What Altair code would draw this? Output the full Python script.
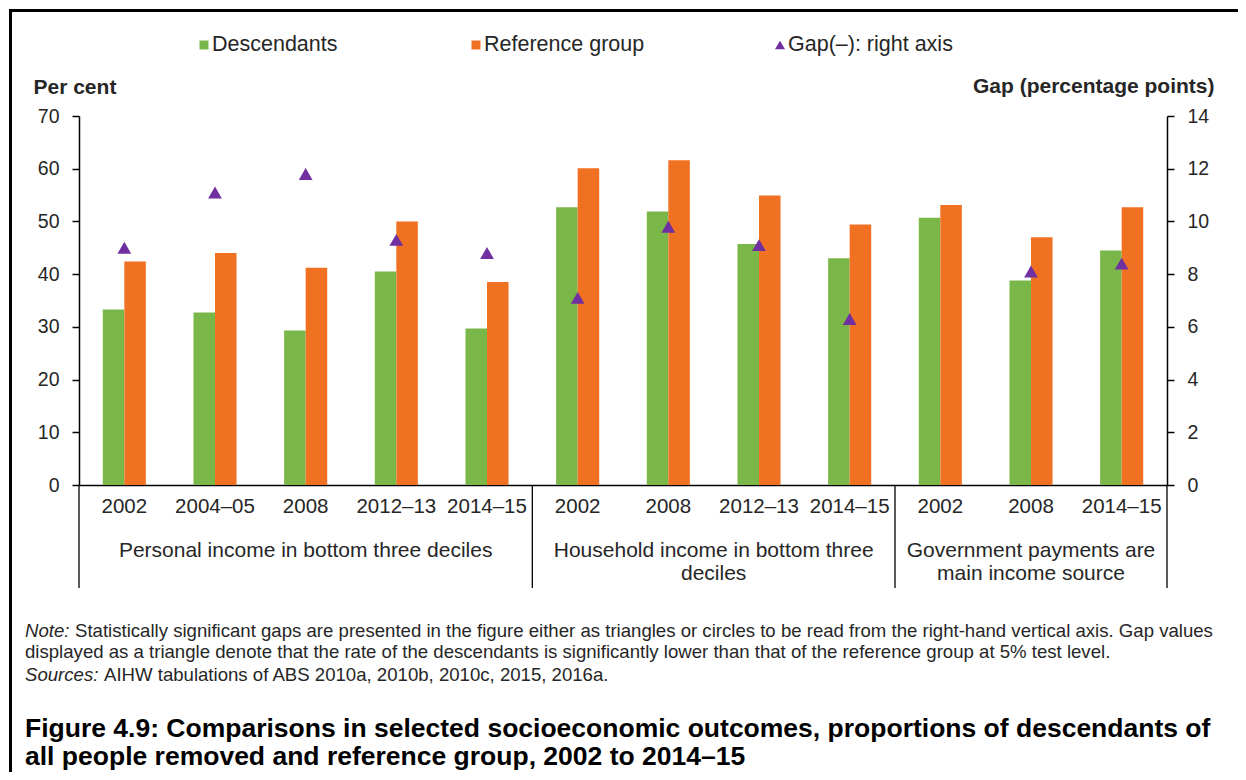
import json
import altair as alt
import pandas as pd

# ---------------- data ----------------
years = ["2002", "2004–05", "2008", "2012–13", "2014–15",
         "2002", "2008", "2012–13", "2014–15",
         "2002", "2008", "2014–15"]
descendants = [33.3, 32.7, 29.3, 40.5, 29.7, 52.7, 51.9, 45.7, 43.0, 50.7, 38.8, 44.5]
reference = [42.4, 44.0, 41.2, 50.0, 38.5, 60.1, 61.6, 54.9, 49.4, 53.1, 47.0, 52.7]
gap = [9.0, 11.1, 11.8, 9.3, 8.8, 7.1, 9.8, 9.1, 6.3, None, 8.1, 8.4]
series = ["Descendants", "Reference group"]
gap_name = "Gap(–):  right axis"
groups = ["Personal income in bottom three deciles",
          "Household income in bottom three\ndeciles",
          "Government payments are\nmain income source"]
group_sizes = [5, 4, 3]

note_lead = "Note:"
note_1 = ("Statistically significant gaps are presented in the figure either as triangles "
          "or circles to be read from the right-hand vertical axis. Gap values")
note_2 = ("displayed as a triangle denote that the rate of the descendants is significantly "
          "lower than that of the reference group at 5% test level.")
src_lead = "Sources:"
src_text = "AIHW tabulations of ABS 2010a, 2010b, 2010c, 2015, 2016a."
title_1 = "Figure 4.9: Comparisons in selected socioeconomic outcomes, proportions of descendants of"
title_2 = "all people removed and reference group, 2002 to 2014–15"

# ---------------- styling ----------------
FONT = "Liberation Sans"
GREEN = "#7AB648"
ORANGE = "#F07122"
PURPLE = "#7030A0"
TXT = "#262626"
W, H = 1088, 369

n = len(years)
keys = [f"c{i}" for i in range(n)]

bars_df = pd.DataFrame({
    "key": keys * 2,
    "series": [series[0]] * n + [series[1]] * n,
    "value": descendants + reference,
})
gap_df = pd.DataFrame({"key": keys, "gap": gap}).dropna()

bounds = [0]
for s in group_sizes:
    bounds.append(bounds[-1] + s)
div_df = pd.DataFrame({"pos": bounds})
grp_df = pd.DataFrame({
    "mid": [(bounds[i] + bounds[i + 1]) / 2 for i in range(len(groups))],
    "label": groups,
})

xband = alt.Scale(domain=keys, paddingInner=0.525, paddingOuter=0.2625)
xlin = alt.Scale(domain=[0, n])
label_expr = (json.dumps(years, ensure_ascii=False) + "[indexof("
              + json.dumps(keys) + ", datum.value)]")

bars = alt.Chart(bars_df).mark_bar().encode(
    x=alt.X("key:N", scale=xband, axis=alt.Axis(
        title=None, labelExpr=label_expr, ticks=False, domainColor="black",
        domainWidth=1.5, labelFontSize=20.5, labelFont=FONT, labelColor=TXT,
        labelPadding=11, labelAngle=0)),
    xOffset=alt.XOffset("series:N", scale=alt.Scale(domain=series, paddingInner=0, paddingOuter=0)),
    y=alt.Y("value:Q", scale=alt.Scale(domain=[0, 70]), axis=alt.Axis(
        title="Per cent", values=list(range(0, 71, 10)), grid=False,
        tickSize=7, tickWidth=1.5, tickColor="black", domainColor="black",
        domainWidth=1.5, labelFontSize=19.5, labelFont=FONT, labelColor=TXT,
        labelPadding=13, titleAngle=0, titleAlign="left", titleBaseline="middle",
        titleX=-46, titleY=-29, titleFont=FONT, titleFontSize=21,
        titleFontWeight="bold", titleColor=TXT)),
    color=alt.Color("series:N", scale=alt.Scale(domain=series, range=[GREEN, ORANGE]), legend=None),
)

points = alt.Chart(gap_df).mark_point(
    shape="triangle-up", filled=True, size=190, color=PURPLE, opacity=1
).encode(
    x=alt.X("key:N", scale=xband, axis=None),
    y=alt.Y("gap:Q", scale=alt.Scale(domain=[0, 14]), axis=alt.Axis(
        orient="right", title="Gap (percentage points)", values=list(range(0, 15, 2)),
        grid=False, tickSize=7, tickWidth=1.5, tickColor="black", domainColor="black",
        domainWidth=1.5, labelFontSize=19.5, labelFont=FONT, labelColor=TXT,
        labelPadding=13, titleAngle=0, titleAlign="right", titleBaseline="middle",
        titleX=47, titleY=-30, titleFont=FONT, titleFontSize=21,
        titleFontWeight="bold", titleColor=TXT)),
)

dividers = alt.Chart(div_df).mark_rule(color="black", strokeWidth=1.3).encode(
    x=alt.X("pos:Q", scale=xlin, axis=None),
    y=alt.value(H), y2=alt.value(H + 103),
)

group_text = alt.Chart(grp_df).mark_text(
    fontSize=21, font=FONT, color=TXT, lineBreak="\n", lineHeight=23,
    baseline="alphabetic", align="center"
).encode(
    x=alt.X("mid:Q", scale=xlin, axis=None),
    y=alt.value(H + 72),
    text="label:N",
)


def txt(s, x, y, size=19, weight="normal", style="normal", align="left"):
    return alt.Chart(pd.DataFrame({"t": [s]})).mark_text(
        fontSize=size, font=FONT, fontWeight=weight, fontStyle=style,
        color=TXT if weight == "normal" else "black", align=align, baseline="middle"
    ).encode(text="t:N", x=alt.value(x), y=alt.value(y))


def sym(shape, color, x, y, size):
    return alt.Chart(pd.DataFrame({"t": [0]})).mark_point(
        shape=shape, filled=True, color=color, size=size, opacity=1
    ).encode(x=alt.value(x), y=alt.value(y))


one = pd.DataFrame({"t": [0]})
frame_top = alt.Chart(one).mark_rule(color="black", strokeWidth=3).encode(
    x=alt.value(-68.5), x2=alt.value(1160), y=alt.value(-105.5))
frame_left = alt.Chart(one).mark_rule(color="black", strokeWidth=3).encode(
    x=alt.value(-68.5), y=alt.value(-107), y2=alt.value(660))

LY = -71
LS = 21.5
legend = [
    sym("square", GREEN, 125, LY, 81), txt(series[0], 133, LY, LS),
    sym("square", ORANGE, 397, LY, 81), txt(series[1], 405, LY, LS),
    sym("triangle-up", PURPLE, 701, LY, 100), txt(gap_name, 709, LY, LS),
]

NS = 18.6
notes = [
    txt(note_lead, -54, 515, NS, style="italic"), txt(note_1, -4, 515, NS),
    txt(note_2, -54, 536, NS),
    txt(src_lead, -54, 559, NS, style="italic"), txt(src_text, 25, 559, NS),
    txt(title_1, -54, 613, 26.5, weight="bold"),
    txt(title_2, -54, 641, 26.5, weight="bold"),
]

chart = alt.layer(
    bars, points, dividers, group_text, frame_top, frame_left, *legend, *notes
).resolve_scale(
    x="independent", y="independent"
).properties(
    width=W, height=H,
    autosize=alt.AutoSizeParams(type="none"),
    padding={"left": 71, "top": 108, "right": 71, "bottom": 287},
    background="white",
).configure_view(stroke=None)

chart.save("out.html", embed_options={"renderer": "svg", "actions": False})
